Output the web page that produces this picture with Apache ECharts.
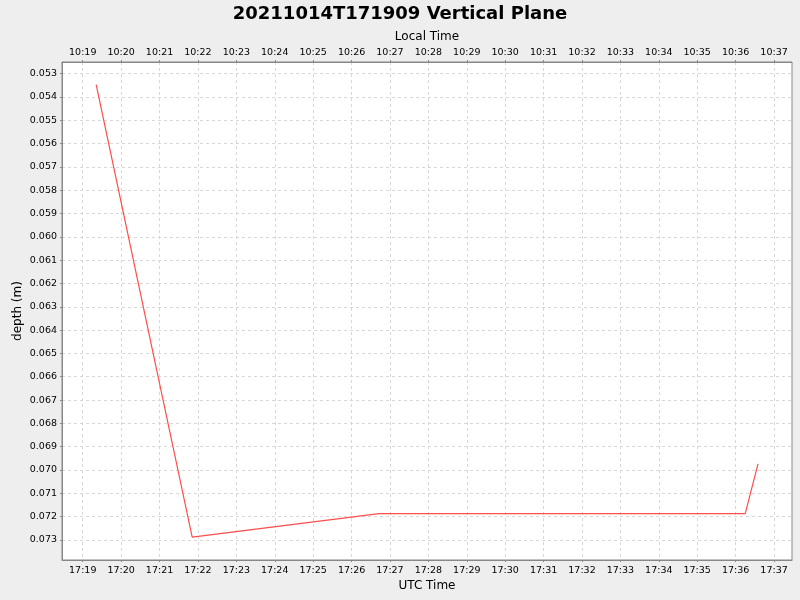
<!DOCTYPE html>
<html>
<head>
<meta charset="utf-8">
<script src="https://cdn.jsdelivr.net/npm/echarts@6/dist/echarts.min.js"></script>
<style>
  html, body { margin: 0; padding: 0; background: #eeeeee; }
  #chart { width: 800px; height: 600px; }
</style>
</head>
<body>
<div id="chart"></div>
<script>
// UTC sample times and depths
var utcTimes = ["17:19:21", "17:20:50", "17:21:51", "17:26:43", "17:36:15", "17:36:35"];
var depths = [0.05347, 0.06500, 0.07288, 0.07187, 0.07187, 0.06974];

// tick labels (minutes past the hour)
var tickMinutes = [19, 20, 21, 22, 23, 24, 25, 26, 27, 28, 29, 30, 31, 32, 33, 34, 35, 36, 37];
var depthTicks = [0.053, 0.054, 0.055, 0.056, 0.057, 0.058, 0.059, 0.060, 0.061, 0.062,
  0.063, 0.064, 0.065, 0.066, 0.067, 0.068, 0.069, 0.070, 0.071, 0.072, 0.073];

var utcHour = 17;
var localOffset = -7;

// minutes after 17:00
function toMinutes(s) {
  var p = s.split(":");
  return (+p[0] - utcHour) * 60 + (+p[1]) + (+p[2]) / 60;
}
function pad(n) { return (n < 10 ? "0" : "") + n; }

var seriesData = utcTimes.map(function (t, i) { return [toMinutes(t), depths[i]]; });

var font = "DejaVu Sans";
var xMin = 18.46, xMax = 37.468;

var chartDom = document.getElementById("chart");
var myChart = echarts.init(chartDom);
var option;

var gridLine = { show: true, lineStyle: { color: "#d8d8d8", type: [3, 3], width: 1 } };

option = {
  backgroundColor: "#eeeeee",
  animation: false,
  title: {
    text: "20211014T171909 Vertical Plane",
    left: "center",
    top: 0,
    textStyle: { fontFamily: font, fontSize: 18, fontWeight: "bold", color: "#000" }
  },
  grid: {
    left: 62, right: 8, top: 62, bottom: 40,
    show: true, backgroundColor: "#ffffff", borderColor: "#888888", borderWidth: 1
  },
  xAxis: [{
    type: "value",
    position: "bottom",
    min: xMin, max: xMax,
    name: "UTC Time",
    nameLocation: "middle",
    nameMoveOverlap: false,
    nameGap: 20,
    nameTextStyle: { fontFamily: font, fontSize: 12, color: "#000" },
    axisLine: { lineStyle: { color: "#888888" } },
    axisTick: { show: true, length: 2, customValues: tickMinutes, lineStyle: { color: "#888888" } },
    axisLabel: {
      customValues: tickMinutes, margin: 6,
      fontFamily: font, fontSize: 9.5, color: "#000",
      formatter: function (v) { return utcHour + ":" + pad(Math.round(v)); }
    },
    splitLine: gridLine
  }, {
    type: "value",
    position: "top",
    min: xMin, max: xMax,
    name: "Local Time",
    nameLocation: "middle",
    nameMoveOverlap: false,
    nameGap: 19,
    nameTextStyle: { fontFamily: font, fontSize: 12, color: "#000" },
    axisLine: { lineStyle: { color: "#888888" } },
    axisTick: { show: true, length: 2, customValues: tickMinutes, lineStyle: { color: "#888888" } },
    axisLabel: {
      customValues: tickMinutes, margin: 4,
      fontFamily: font, fontSize: 9.5, color: "#000",
      formatter: function (v) { return (utcHour + localOffset) + ":" + pad(Math.round(v)); }
    },
    splitLine: { show: false }
  }],
  yAxis: {
    type: "value",
    inverse: true,
    min: 0.0525, max: 0.07386,
    name: "depth (m)",
    nameLocation: "middle",
    nameMoveOverlap: false,
    nameGap: 38,
    nameTextStyle: { fontFamily: font, fontSize: 12, color: "#000" },
    axisLine: { show: true, lineStyle: { color: "#888888" } },
    axisTick: { show: true, length: 2, customValues: depthTicks, lineStyle: { color: "#888888" } },
    axisLabel: {
      customValues: depthTicks, margin: 5,
      fontFamily: font, fontSize: 9.5, color: "#000",
      formatter: function (v) { return v.toFixed(3); }
    },
    splitLine: gridLine
  },
  series: [{
    type: "line",
    xAxisIndex: 0,
    data: seriesData,
    symbol: "none",
    lineStyle: { color: "#ff4d4d", width: 1.2 }
  }]
};

option && myChart.setOption(option);
</script>
</body>
</html>
